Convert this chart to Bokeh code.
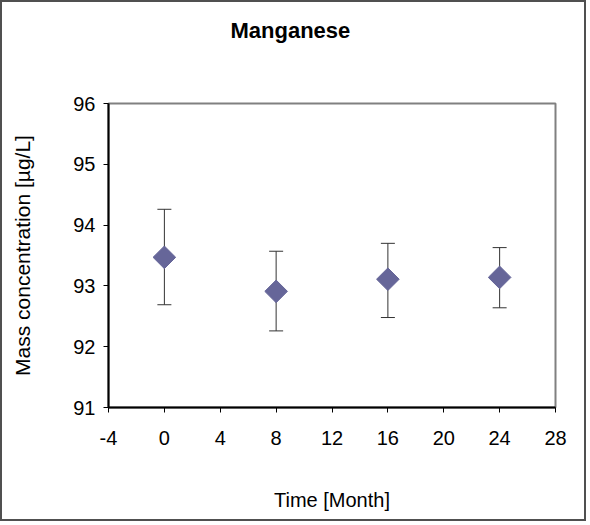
from bokeh.plotting import figure
from bokeh.models import ColumnDataSource, Whisker, TeeHead, FixedTicker, Range1d, Title
from bokeh.embed import file_html
from bokeh.resources import INLINE

# ---- data ----
months = [0, 8, 16, 24]
mn_mean = [93.47, 92.91, 93.11, 93.14]
mn_upper = [94.26, 93.57, 93.70, 93.63]
mn_lower = [92.69, 92.26, 92.48, 92.64]
x_ticks = [-4, 0, 4, 8, 12, 16, 20, 24, 28]
y_ticks = [91, 92, 93, 94, 95, 96]
title_text = "Manganese"

FONT = "Liberation Sans"
W, H = 586, 521

p = figure(width=W, height=H, output_backend="svg", toolbar_location=None,
           x_range=Range1d(-4, 28), y_range=Range1d(91, 96),
           min_border_left=106, min_border_right=33, min_border_top=101, min_border_bottom=116)
p.styles = {"border": "2px solid #505050"}

# spacer between title and frame, then the title itself (stacked outward)
p.add_layout(Title(text=" ", text_font_size="1px", standoff=58), "above")
p.add_layout(Title(text=title_text, text_font=FONT, text_font_size="22px",
                   text_font_style="bold", text_color="black",
                   align="left", offset=122, standoff=0), "above")

p.xgrid.visible = False
p.ygrid.visible = False
p.outline_line_color = "#808080"
p.outline_line_width = 2
p.background_fill_color = "white"
p.border_fill_alpha = 0

for ax, ticks in ((p.xaxis, x_ticks), (p.yaxis, y_ticks)):
    ax.ticker = FixedTicker(ticks=ticks)
    ax.minor_tick_line_color = None
    ax.major_tick_in = 0
    ax.major_tick_out = 5
    ax.major_tick_line_color = "black"
    ax.major_tick_line_width = 1
    ax.axis_line_color = "black"
    ax.axis_line_width = 2
    ax.major_label_text_font = FONT
    ax.major_label_text_font_size = "20px"
    ax.major_label_text_color = "black"
    ax.axis_label_text_font = FONT
    ax.axis_label_text_font_style = "normal"
    ax.axis_label_text_color = "black"

p.xaxis.major_label_overrides = {t: str(t) for t in x_ticks}
p.xaxis.axis_label = "Time [Month]"
p.yaxis.axis_label = "Mass concentration [µg/L]"
p.xaxis.axis_label_text_font_size = "20px"
p.yaxis.axis_label_text_font_size = "21px"
p.xaxis.major_label_standoff = 18
p.yaxis.major_label_standoff = 8
p.xaxis.axis_label_standoff = 41
p.yaxis.axis_label_standoff = 36

src = ColumnDataSource(dict(x=months, y=mn_mean, upper=mn_upper, lower=mn_lower))

w = Whisker(source=src, base="x", upper="upper", lower="lower",
            line_color="#333333", line_width=1,
            upper_head=TeeHead(size=14, line_color="#333333", line_width=1),
            lower_head=TeeHead(size=14, line_color="#333333", line_width=1))
p.add_layout(w)

p.scatter("x", "y", source=src, marker="square", angle=0.785398, size=16,
          fill_color="#666699", line_color="#666699")

open("out.html", "w").write(file_html(p, INLINE))
